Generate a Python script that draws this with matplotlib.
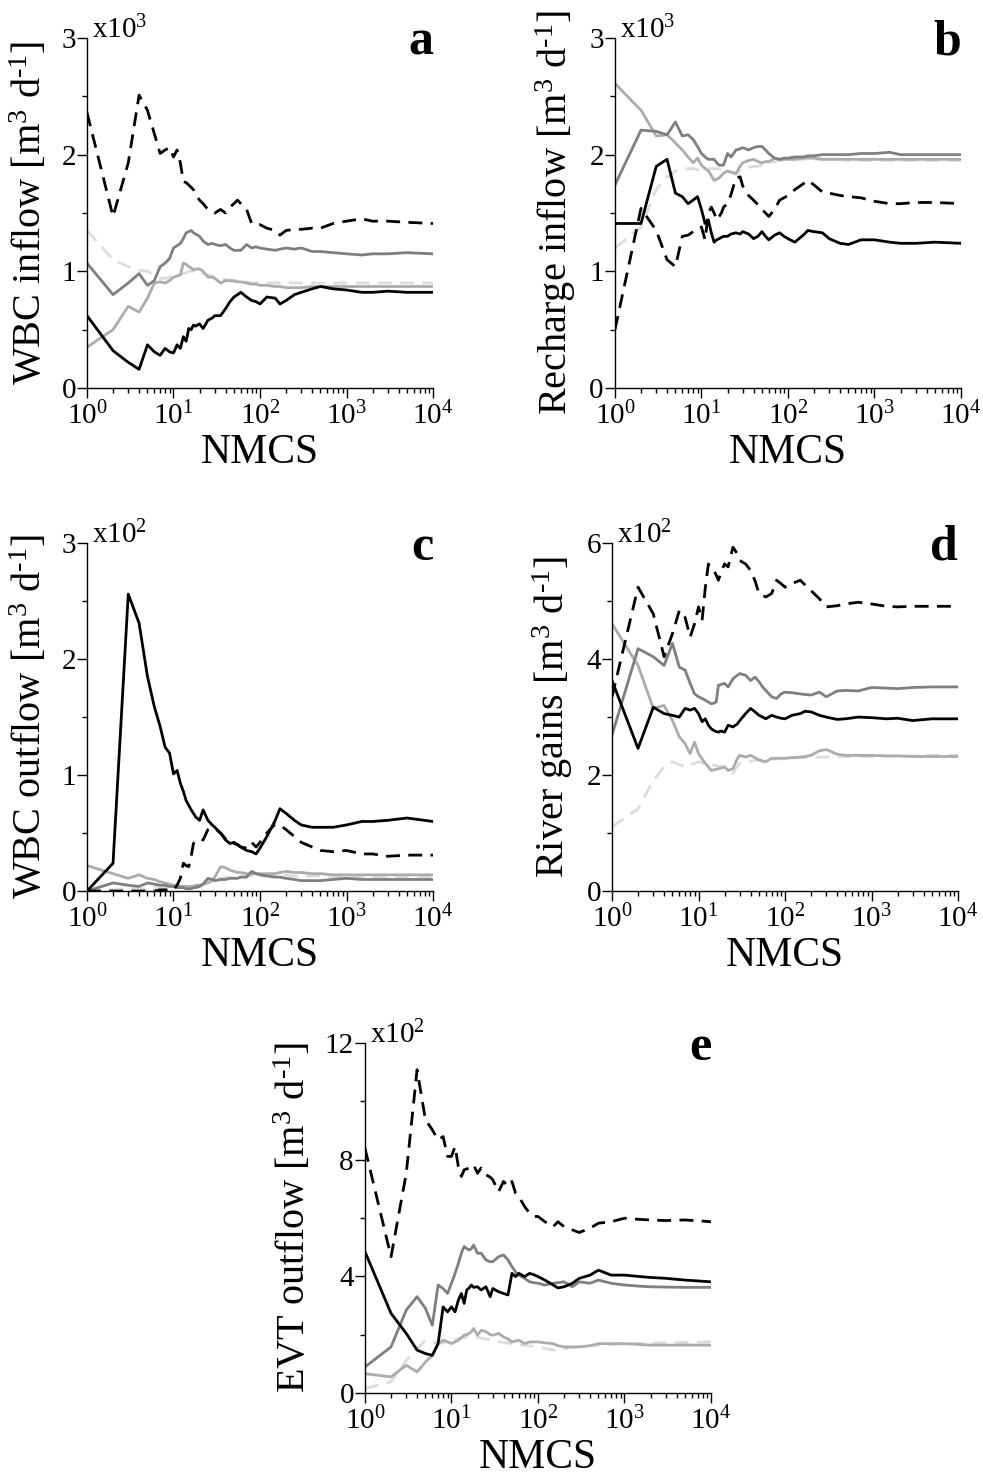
import matplotlib
matplotlib.use('Agg')
import matplotlib.pyplot as plt
from matplotlib.ticker import MultipleLocator, LogLocator, NullFormatter

# ---------------------------------------------------------
# 1. Fonts
# ---------------------------------------------------------
plt.rcParams['font.family'] = 'Liberation Serif'
plt.rcParams['mathtext.fontset'] = 'custom'
plt.rcParams['mathtext.rm'] = 'Liberation Serif'
plt.rcParams['mathtext.it'] = 'Liberation Serif:italic'
plt.rcParams['mathtext.bf'] = 'Liberation Serif:bold'

# ---------------------------------------------------------
# 2. Data (running means)
# ---------------------------------------------------------
nmcs = [1, 2, 3, 4, 5, 6, 7, 8, 9, 10, 11, 12, 13, 14, 15, 16, 17, 18, 20, 22,
        25, 28, 30, 35, 40, 45, 50, 55, 60, 70, 80, 90, 100, 120, 150, 170, 200,
        250, 300, 400, 500, 700, 1000, 1500, 2000, 3000, 5000, 10000]

# a) WBC inflow, x10^3
a_black = [0.62, 0.32, 0.22, 0.16, 0.37, 0.31, 0.28, 0.34, 0.31, 0.30, 0.37, 0.34, 0.44, 0.40, 0.51, 0.50,
           0.54, 0.53, 0.55, 0.51, 0.58, 0.60, 0.62, 0.62, 0.68, 0.74, 0.78, 0.80, 0.82, 0.78, 0.75, 0.74,
           0.72, 0.78, 0.77, 0.72, 0.75, 0.80, 0.82, 0.85, 0.87, 0.85, 0.84, 0.82, 0.82, 0.83, 0.82, 0.82]
a_dash = [2.36, 1.47, 1.93, 2.51, 2.38, 2.18, 2.01, 2.04, 2.06, 1.98, 2.04, 1.93, 1.77, 1.76, 1.74, 1.72,
          1.70, 1.66, 1.61, 1.58, 1.53, 1.51, 1.50, 1.53, 1.50, 1.55, 1.58, 1.61, 1.58, 1.53, 1.41, 1.40,
          1.40, 1.37, 1.35, 1.31, 1.35, 1.36, 1.36, 1.37, 1.37, 1.41, 1.43, 1.45, 1.43, 1.43, 1.42, 1.41]
a_dgray = [1.07, 0.80, 0.90, 0.98, 0.88, 0.92, 1.04, 1.07, 1.11, 1.20, 1.22, 1.24, 1.28, 1.33, 1.34, 1.35,
           1.33, 1.32, 1.30, 1.26, 1.23, 1.24, 1.23, 1.22, 1.23, 1.20, 1.18, 1.18, 1.18, 1.23, 1.20, 1.21,
           1.20, 1.19, 1.18, 1.19, 1.20, 1.19, 1.20, 1.17, 1.17, 1.16, 1.15, 1.14, 1.15, 1.15, 1.16, 1.15]
a_lgray = [0.35, 0.50, 0.70, 0.65, 0.77, 0.90, 0.91, 0.90, 0.92, 0.95, 0.96, 0.97, 1.07, 1.06, 1.04, 1.03,
           1.01, 1.02, 1.02, 1.00, 0.95, 0.95, 0.94, 0.90, 0.92, 0.92, 0.92, 0.91, 0.91, 0.90, 0.89, 0.89,
           0.88, 0.88, 0.87, 0.87, 0.86, 0.86, 0.86, 0.87, 0.87, 0.87, 0.87, 0.87, 0.87, 0.87, 0.87, 0.87]
a_pale = [1.35, 1.10, 1.04, 1.01, 1.00, 0.97, 0.94, 0.94, 0.95, 0.95, 0.96, 0.97, 0.98, 0.99, 1.00, 1.00,
          1.00, 1.00, 1.00, 0.98, 0.97, 0.96, 0.95, 0.94, 0.93, 0.92, 0.91, 0.91, 0.91, 0.91, 0.90, 0.90,
          0.90, 0.90, 0.90, 0.90, 0.90, 0.90, 0.90, 0.90, 0.90, 0.90, 0.90, 0.90, 0.90, 0.90, 0.90, 0.90]

# b) Recharge inflow, x10^3
b_black = [1.41, 1.41, 1.90, 1.96, 1.67, 1.64, 1.58, 1.61, 1.64, 1.53, 1.41, 1.44, 1.33, 1.25, 1.27, 1.28,
           1.29, 1.30, 1.30, 1.32, 1.33, 1.32, 1.34, 1.32, 1.28, 1.30, 1.34, 1.30, 1.27, 1.31, 1.33, 1.30,
           1.28, 1.25, 1.31, 1.35, 1.34, 1.33, 1.28, 1.24, 1.23, 1.27, 1.27, 1.25, 1.24, 1.24, 1.25, 1.24]
b_dash = [0.50, 1.54, 1.35, 1.10, 1.04, 1.30, 1.31, 1.34, 1.35, 1.38, 1.27, 1.50, 1.55, 1.50, 1.44, 1.47,
          1.50, 1.55, 1.58, 1.66, 1.80, 1.81, 1.73, 1.65, 1.61, 1.57, 1.53, 1.50, 1.47, 1.53, 1.61, 1.63,
          1.65, 1.70, 1.75, 1.78, 1.74, 1.68, 1.67, 1.65, 1.64, 1.63, 1.60, 1.58, 1.58, 1.59, 1.59, 1.58]
b_dgray = [1.74, 2.21, 2.20, 2.17, 2.28, 2.16, 2.17, 2.13, 2.07, 2.01, 1.98, 1.96, 1.96, 1.96, 1.93, 1.91,
           1.91, 1.91, 2.01, 1.98, 2.04, 2.05, 2.06, 2.04, 2.06, 2.07, 2.07, 2.04, 2.01, 1.97, 1.96, 1.97,
           1.97, 1.98, 1.98, 1.99, 1.99, 2.00, 2.00, 2.00, 2.00, 2.01, 2.01, 2.02, 2.00, 2.00, 2.00, 2.00]
b_lgray = [2.61, 2.38, 2.16, 2.17, 2.10, 2.04, 1.98, 1.93, 1.97, 1.91, 1.88, 1.86, 1.82, 1.78, 1.79, 1.80,
           1.82, 1.84, 1.86, 1.85, 1.84, 1.90, 1.93, 1.95, 1.96, 1.94, 1.93, 1.94, 1.94, 1.97, 1.96, 1.96,
           1.96, 1.96, 1.97, 1.97, 1.97, 1.96, 1.96, 1.96, 1.96, 1.96, 1.96, 1.96, 1.96, 1.96, 1.96, 1.96]
b_pale = [1.20, 1.38, 1.70, 1.81, 1.86, 1.87, 1.88, 1.88, 1.87, 1.87, 1.87, 1.88, 1.88, 1.88, 1.88, 1.88,
          1.87, 1.87, 1.86, 1.85, 1.83, 1.86, 1.88, 1.89, 1.90, 1.90, 1.91, 1.92, 1.93, 1.94, 1.95, 1.95,
          1.96, 1.96, 1.96, 1.96, 1.96, 1.96, 1.96, 1.96, 1.95, 1.95, 1.95, 1.95, 1.95, 1.95, 1.95, 1.95]

# c) WBC outflow, x10^2
c_black = [0.00, 0.24, 2.56, 2.31, 1.85, 1.59, 1.42, 1.24, 1.19, 1.01, 1.04, 0.93, 0.86, 0.78, 0.74, 0.70,
           0.67, 0.64, 0.61, 0.70, 0.61, 0.57, 0.55, 0.50, 0.44, 0.41, 0.42, 0.40, 0.38, 0.35, 0.34, 0.32,
           0.37, 0.47, 0.61, 0.71, 0.67, 0.61, 0.57, 0.55, 0.55, 0.55, 0.57, 0.60, 0.60, 0.61, 0.63, 0.60]
c_dash = [0.00, 0.00, 0.00, 0.00, 0.00, 0.00, 0.01, 0.01, 0.01, 0.01, 0.05, 0.11, 0.24, 0.22, 0.21, 0.30,
          0.41, 0.43, 0.45, 0.44, 0.53, 0.54, 0.54, 0.50, 0.45, 0.43, 0.41, 0.40, 0.38, 0.37, 0.42, 0.38,
          0.42, 0.50, 0.58, 0.57, 0.53, 0.47, 0.42, 0.38, 0.35, 0.34, 0.35, 0.32, 0.32, 0.30, 0.31, 0.31]
c_dgray = [0.00, 0.07, 0.05, 0.04, 0.07, 0.06, 0.05, 0.05, 0.04, 0.04, 0.03, 0.03, 0.03, 0.02, 0.02, 0.02,
           0.03, 0.03, 0.04, 0.06, 0.11, 0.10, 0.09, 0.10, 0.10, 0.11, 0.11, 0.11, 0.12, 0.12, 0.17, 0.15,
           0.14, 0.13, 0.12, 0.12, 0.11, 0.10, 0.09, 0.09, 0.09, 0.10, 0.11, 0.10, 0.10, 0.10, 0.10, 0.10]
c_lgray = [0.22, 0.15, 0.11, 0.14, 0.11, 0.10, 0.08, 0.07, 0.06, 0.05, 0.05, 0.04, 0.04, 0.04, 0.04, 0.04,
           0.04, 0.05, 0.05, 0.06, 0.07, 0.09, 0.12, 0.21, 0.20, 0.18, 0.17, 0.16, 0.16, 0.15, 0.15, 0.15,
           0.15, 0.15, 0.15, 0.16, 0.17, 0.16, 0.16, 0.15, 0.15, 0.14, 0.14, 0.14, 0.14, 0.14, 0.14, 0.14]
c_pale = [0.01, 0.01, 0.02, 0.02, 0.02, 0.03, 0.03, 0.03, 0.04, 0.04, 0.04, 0.04, 0.04, 0.04, 0.04, 0.04,
          0.04, 0.04, 0.04, 0.06, 0.09, 0.10, 0.11, 0.11, 0.12, 0.12, 0.12, 0.12, 0.13, 0.13, 0.13, 0.14,
          0.14, 0.14, 0.14, 0.14, 0.14, 0.13, 0.13, 0.13, 0.13, 0.12, 0.12, 0.12, 0.12, 0.12, 0.12, 0.12]

# d) River gains, x10^2
d_black = [3.63, 2.46, 3.17, 3.06, 3.03, 3.00, 3.15, 3.12, 3.15, 3.06, 2.92, 2.97, 2.86, 2.80, 2.77, 2.75,
           2.74, 2.76, 2.74, 2.86, 2.83, 2.88, 2.94, 3.06, 3.15, 3.09, 3.03, 3.00, 2.97, 3.03, 3.00, 2.98,
           2.97, 3.03, 3.06, 3.10, 3.09, 3.03, 3.00, 2.96, 2.97, 3.00, 2.99, 2.97, 2.98, 2.94, 2.97, 2.97]
d_dash = [3.35, 5.24, 4.78, 4.04, 4.44, 4.84, 4.72, 4.38, 4.61, 4.90, 4.67, 5.24, 5.64, 5.58, 5.53, 5.45,
          5.36, 5.48, 5.64, 5.59, 5.93, 5.82, 5.70, 5.64, 5.53, 5.35, 5.13, 5.10, 5.07, 5.13, 5.36, 5.30,
          5.24, 5.30, 5.36, 5.28, 5.18, 5.04, 4.90, 4.92, 4.95, 4.98, 4.95, 4.91, 4.90, 4.91, 4.91, 4.91]
d_dgray = [2.69, 4.18, 4.04, 3.89, 4.27, 3.86, 3.81, 3.58, 3.40, 3.35, 3.32, 3.29, 3.26, 3.23, 3.24, 3.26,
           3.55, 3.56, 3.58, 3.52, 3.66, 3.72, 3.75, 3.72, 3.63, 3.69, 3.61, 3.52, 3.46, 3.35, 3.32, 3.40,
           3.43, 3.42, 3.40, 3.39, 3.38, 3.43, 3.35, 3.45, 3.46, 3.45, 3.51, 3.50, 3.49, 3.51, 3.52, 3.52]
d_lgray = [4.61, 3.89, 3.15, 3.20, 2.94, 2.66, 2.54, 2.37, 2.57, 2.37, 2.28, 2.20, 2.14, 2.08, 2.09, 2.10,
           2.11, 2.12, 2.14, 2.08, 2.11, 2.28, 2.34, 2.31, 2.34, 2.30, 2.26, 2.24, 2.23, 2.29, 2.29, 2.29,
           2.29, 2.30, 2.31, 2.32, 2.34, 2.42, 2.44, 2.36, 2.34, 2.34, 2.34, 2.33, 2.33, 2.32, 2.32, 2.32]
d_pale = [1.11, 1.42, 1.91, 2.14, 2.23, 2.18, 2.14, 2.18, 2.20, 2.23, 2.21, 2.19, 2.18, 2.17, 2.17, 2.16,
          2.15, 2.15, 2.14, 2.10, 2.03, 2.15, 2.20, 2.22, 2.24, 2.25, 2.26, 2.26, 2.27, 2.27, 2.28, 2.28,
          2.29, 2.29, 2.30, 2.30, 2.31, 2.31, 2.31, 2.32, 2.32, 2.32, 2.32, 2.33, 2.33, 2.33, 2.34, 2.34]

# e) EVT outflow, x10^2
e_black = [4.84, 2.73, 2.04, 1.47, 1.35, 1.29, 1.69, 2.95, 2.78, 2.95, 2.78, 3.18, 3.41, 3.07, 3.53, 3.60,
           3.70, 3.62, 3.64, 3.53, 3.64, 3.30, 3.58, 3.47, 3.41, 3.36, 4.10, 3.99, 4.10, 3.99, 4.10, 4.05,
           3.99, 3.87, 3.70, 3.60, 3.64, 3.76, 3.93, 4.04, 4.21, 4.04, 4.04, 3.99, 3.96, 3.93, 3.87, 3.81]
e_dash = [8.39, 4.67, 7.53, 11.08, 9.37, 9.02, 8.68, 8.79, 8.11, 8.11, 8.45, 7.76, 7.42, 7.65, 7.68, 7.71,
          7.75, 7.82, 7.53, 7.71, 7.48, 7.40, 7.31, 6.90, 7.25, 7.08, 7.25, 6.85, 6.73, 6.39, 6.16, 6.05,
          6.05, 5.87, 5.70, 5.87, 5.70, 5.59, 5.50, 5.65, 5.82, 5.87, 5.99, 5.95, 5.93, 5.91, 5.93, 5.87]
e_dgray = [0.89, 1.58, 2.84, 3.30, 2.90, 2.32, 3.70, 3.58, 3.41, 3.76, 4.10, 4.44, 4.79, 5.02, 4.95, 4.90,
           4.95, 5.07, 4.79, 4.79, 4.56, 4.50, 4.50, 4.67, 4.73, 4.56, 4.33, 4.15, 4.04, 3.93, 3.81, 3.78,
           3.76, 3.70, 3.76, 3.78, 3.81, 3.64, 3.81, 3.76, 3.87, 3.76, 3.70, 3.66, 3.64, 3.63, 3.62, 3.62]
e_lgray = [0.66, 0.55, 0.95, 0.72, 1.06, 1.29, 1.69, 1.81, 1.75, 1.69, 1.75, 1.81, 1.90, 1.98, 2.00, 2.04,
           2.10, 2.21, 1.98, 2.15, 2.10, 2.00, 1.98, 2.04, 1.92, 1.85, 1.75, 1.78, 1.81, 1.69, 1.75, 1.75,
           1.75, 1.72, 1.69, 1.62, 1.58, 1.58, 1.58, 1.62, 1.69, 1.69, 1.69, 1.66, 1.64, 1.64, 1.64, 1.64]
e_pale = [0.15, 0.38, 1.12, 1.52, 1.81, 1.75, 1.69, 1.72, 1.76, 1.81, 1.84, 1.86, 1.88, 1.90, 1.92, 1.92,
          1.92, 1.92, 1.92, 1.88, 1.85, 1.82, 1.81, 1.76, 1.73, 1.71, 1.69, 1.67, 1.66, 1.63, 1.61, 1.60,
          1.58, 1.52, 1.47, 1.48, 1.52, 1.56, 1.58, 1.62, 1.64, 1.66, 1.69, 1.70, 1.71, 1.72, 1.73, 1.75]

# ---------------------------------------------------------
# 3. Panel setup
# ---------------------------------------------------------
unit = ' [m$^3$ d$^{\\text{-1}}$]'

# (letter, y label, multiplier text, ymax, major step, axes rect, series)
panels = [
    ('a', 'WBC inflow' + unit, 'x10$^3$', 3, 1, [0.0885, 0.7373, 0.352, 0.237],
     [a_pale, a_lgray, a_dgray, a_dash, a_black]),
    ('b', 'Recharge inflow' + unit, 'x10$^3$', 3, 1, [0.6256, 0.7373, 0.352, 0.237],
     [b_pale, b_lgray, b_dgray, b_dash, b_black]),
    ('c', 'WBC outflow' + unit, 'x10$^2$', 3, 1, [0.0885, 0.3967, 0.352, 0.2356],
     [c_pale, c_lgray, c_dgray, c_dash, c_black]),
    ('d', 'River gains' + unit, 'x10$^2$', 6, 2, [0.6226, 0.3967, 0.352, 0.2356],
     [d_pale, d_lgray, d_dgray, d_dash, d_black]),
    ('e', 'EVT outflow' + unit, 'x10$^2$', 12, 4, [0.3713, 0.0569, 0.352, 0.237],
     [e_pale, e_lgray, e_dgray, e_dash, e_black]),
]

# same order as the series lists above: pale dashed, light, dark, black dashed, black
line_styles = [
    dict(color='#dcdcdc', lw=2.0, dashes=(5, 3)),
    dict(color='#acacac', lw=2.0),
    dict(color='#7f7f7f', lw=2.0),
    dict(color='black', lw=2.0, dashes=(5, 3)),
    dict(color='black', lw=2.0),
]

# ---------------------------------------------------------
# 4. Visualization
# ---------------------------------------------------------
fig = plt.figure(figsize=(9.83, 14.77), dpi=100)

for letter, ylabel, mult, ymax, step, rect, series in panels:
    ax = fig.add_axes(rect)
    for values, style in zip(series, line_styles):
        ax.plot(nmcs, values, **style)

    ax.set_xscale('log')
    ax.set_xlim(1, 1e4)
    ax.set_ylim(0, ymax)
    ax.xaxis.set_major_locator(LogLocator(base=10, numticks=10))
    ax.xaxis.set_minor_locator(LogLocator(base=10, subs=range(2, 10), numticks=100))
    ax.xaxis.set_minor_formatter(NullFormatter())
    ax.yaxis.set_major_locator(MultipleLocator(step))
    ax.yaxis.set_minor_locator(MultipleLocator(step / 2))

    for side in ['top', 'right']:
        ax.spines[side].set_visible(False)
    for side in ['left', 'bottom']:
        ax.spines[side].set_linewidth(1.0)

    ax.tick_params(which='major', direction='out', length=7, width=1, labelsize=21)
    ax.tick_params(which='minor', direction='out', length=3.5, width=1)
    ax.tick_params(axis='y', which='major', pad=1)
    ax.tick_params(axis='x', which='major', pad=3)
    ax.set_xlabel('NMCS', fontsize=30, labelpad=2)
    ax.set_ylabel(ylabel, fontsize=29, labelpad=8)

    ax.text(0.015, 1.0, mult, transform=ax.transAxes, fontsize=21, ha='left', va='baseline')
    ax.text(1.0, 0.952, letter, transform=ax.transAxes, fontsize=36, fontweight='bold',
            ha='right', va='baseline')

plt.savefig('out.png', dpi=100)
